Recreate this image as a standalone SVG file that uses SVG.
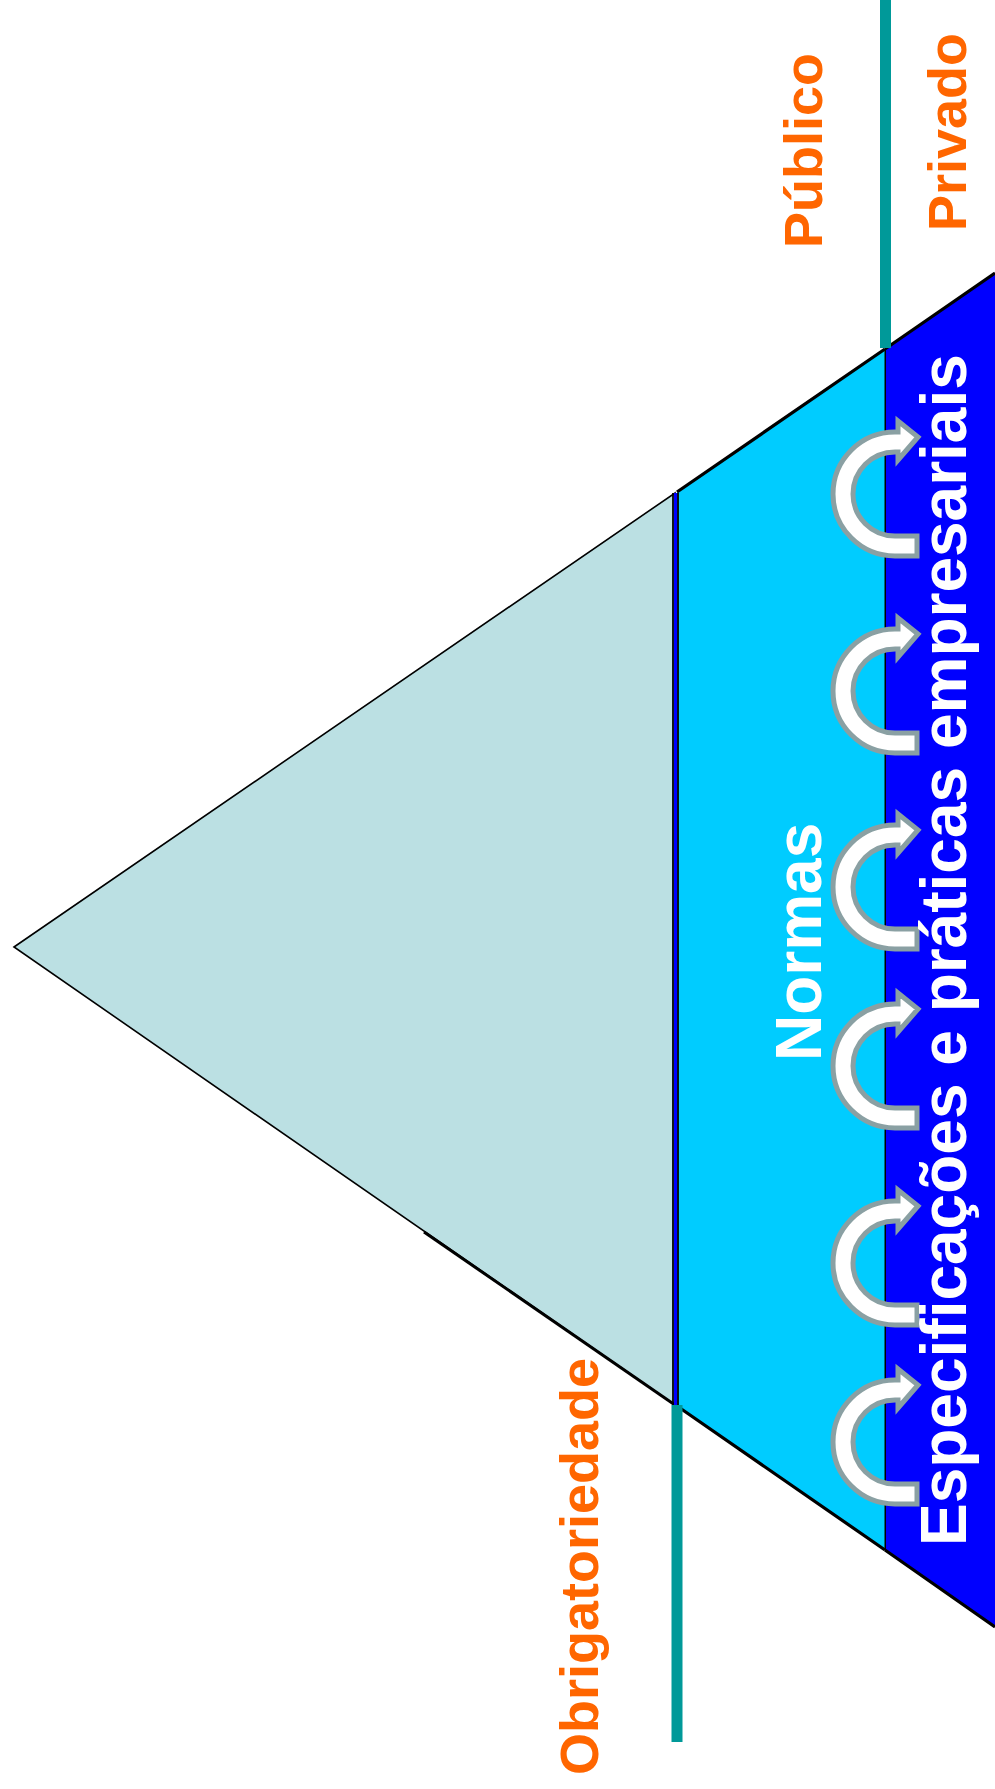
<svg xmlns="http://www.w3.org/2000/svg" xmlns:xlink="http://www.w3.org/1999/xlink" width="995" height="1789" viewBox="0 0 995 1789">
<style>
.lbl{font-family:"Liberation Sans",Arial,sans-serif;font-weight:bold;}
.orange{fill:#FF6600;font-size:54px;}
.white{fill:#FFFFFF;font-size:64px;}
.teal{stroke:#009999;stroke-width:11;fill:none;}
.arrow{fill:#FFFFFF;stroke:#8AA0A3;stroke-width:5;stroke-linejoin:miter;}
</style>
<defs>
<path id="curl" d="M22,62 L0,62 A62,62 0 0 1 0,-62 L3,-62 L3,-73 L23,-57 L3,-34 L3,-42 L0,-42 A42,42 0 0 0 0,42 L22,42 Z"/>
</defs>
<rect x="0" y="0" width="995" height="1789" fill="#FFFFFF"/>
<g id="apex-triangle">
<polygon points="14,947 675,493 675,1405" fill="#BBE0E3" stroke="#000000" stroke-width="1.6" stroke-linejoin="miter"/>
<line x1="424" y1="1232" x2="675" y2="1405" stroke="#000000" stroke-width="3"/>
</g>
<g id="normas-band">
<polygon points="677,492 885,349 885,1550 677,1406" fill="#00CCFF" stroke="none"/>
<path d="M677,492 L885,349 M677,1406 L885,1550" stroke="#000000" stroke-width="3.2" fill="none"/>
<line x1="885.5" y1="349" x2="885.5" y2="1550" stroke="#000000" stroke-width="2"/>
</g>
<g id="divider">
<line x1="673" y1="493" x2="673" y2="1405" stroke="#000000" stroke-width="1.8"/>
<line x1="675.5" y1="493" x2="675.5" y2="1405" stroke="#0000FF" stroke-width="3"/>
<line x1="678" y1="493" x2="678" y2="1405" stroke="#000000" stroke-width="1.8"/>
</g>
<g id="especificacoes-band">
<polygon points="886,348 995,273 995,1627 886,1551" fill="#0000FF" stroke="none"/>
<path d="M885,349 L995,273 M885,1550 L995,1627" stroke="#000000" stroke-width="3.2" fill="none"/>
</g>
<g id="teal-lines">
<line class="teal" x1="885.5" y1="0" x2="885.5" y2="348"/>
<line class="teal" x1="677" y1="1405" x2="677" y2="1742"/>
</g>
<g id="connectors">
<use xlink:href="#curl" class="arrow" transform="translate(895,494)"/>
<use xlink:href="#curl" class="arrow" transform="translate(895,691)"/>
<use xlink:href="#curl" class="arrow" transform="translate(895,887)"/>
<use xlink:href="#curl" class="arrow" transform="translate(895,1066)"/>
<use xlink:href="#curl" class="arrow" transform="translate(895,1263)"/>
<use xlink:href="#curl" class="arrow" transform="translate(895,1442)"/>
</g>
<g id="label-publico">
<text class="lbl orange" transform="translate(822,248) rotate(-90)">Público</text>
</g>
<g id="label-privado">
<text class="lbl orange" transform="translate(966,231) rotate(-90)">Privado</text>
</g>
<g id="label-obrigatoriedade">
<text class="lbl orange" transform="translate(598,1775) rotate(-90)">Obrigatoriedade</text>
</g>
<g id="label-normas">
<text class="lbl white" transform="translate(821,1061) rotate(-90)">Normas</text>
</g>
<g id="label-especificacoes">
<text class="lbl white" transform="translate(966,1546) rotate(-90)">Especificações e práticas empresariais</text>
</g>
</svg>
